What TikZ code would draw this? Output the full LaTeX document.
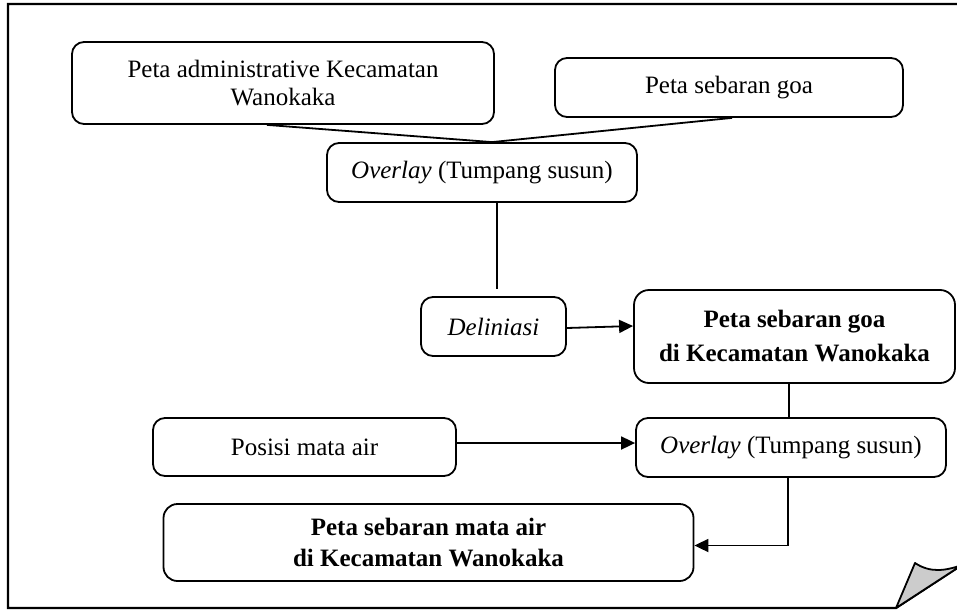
\documentclass[tikz,border=0pt]{standalone}
\usepackage{fontspec}
\setmainfont{Liberation Serif}
\usetikzlibrary{arrows.meta}
\begin{document}
\begin{tikzpicture}[x=1pt,y=-1pt,
  box/.style={draw, line width=1.8pt, rounded corners=12pt, inner sep=0pt, align=center,
    font=\fontsize{25}{28}\selectfont},
  conn/.style={line width=1.8pt},
  arr/.style={line width=1.8pt, -{Triangle[length=14pt,width=13pt]}}]
\useasboundingbox (0,0) rectangle (957,610);
\clip (0,0) rectangle (957,610);
% outer frame with folded corner
\draw[line width=2.2pt] (1000,4) -- (8,4) -- (8,608) -- (896,608) -- (1000,540);
\filldraw[line width=1.8pt, fill=black!20, line join=round] (896,608) -- (915,563) .. controls (930,573) and (945,571) .. (962,565) -- cycle;
% nodes
\node[box, minimum width=422pt, minimum height=82pt] (A) at (283,83) {Peta administrative Kecamatan\\Wanokaka};
\node[box, minimum width=348pt, minimum height=59pt] (B) at (729,87.5) {Peta sebaran goa};
\node[box, minimum width=310pt, minimum height=59pt] (C) at (482,172.5) {\textit{Overlay} (Tumpang susun)};
\node[box, minimum width=145pt, minimum height=59pt] (Del) at (493.5,326.5) {\textit{Deliniasi}};
\node[box, minimum width=321pt, minimum height=93pt, rounded corners=15pt,
  font=\fontsize{25}{34}\selectfont\bfseries] (D) at (794.5,336.5) {Peta sebaran goa\\di Kecamatan Wanokaka};
\node[box, minimum width=303pt, minimum height=58pt] (P) at (304.5,447) {Posisi mata air};
\node[box, minimum width=310pt, minimum height=59pt] (O2) at (791,447.5) {\textit{Overlay} (Tumpang susun)};
\node[box, minimum width=530pt, minimum height=77pt, rounded corners=14pt,
  font=\fontsize{25}{31}\selectfont\bfseries] (E) at (428.5,542.5) {Peta sebaran mata air\\di Kecamatan Wanokaka};
% connectors
\coordinate (m) at ([xshift=10pt]C.north);
\draw[conn] ([xshift=-16pt]A.south) -- (m);
\draw[conn] ([xshift=3pt]B.south) -- (m);
\draw[conn, shorten >=7pt] ([xshift=15pt]C.south) -- ([xshift=15pt]C.south |- Del.north);
\draw[arr] ([yshift=-1.5pt]Del.east) -- ([yshift=10.5pt]D.west);
\draw[conn] ([xshift=-5.5pt]D.south) -- ([xshift=-5.5pt]D.south |- O2.north);
\draw[arr] ([yshift=4pt]P.east) -- ([yshift=4pt]P.east -| O2.west);
\draw[arr] ([xshift=-3pt]O2.south) |- ([yshift=-3pt]E.east);
\end{tikzpicture}
\end{document}
